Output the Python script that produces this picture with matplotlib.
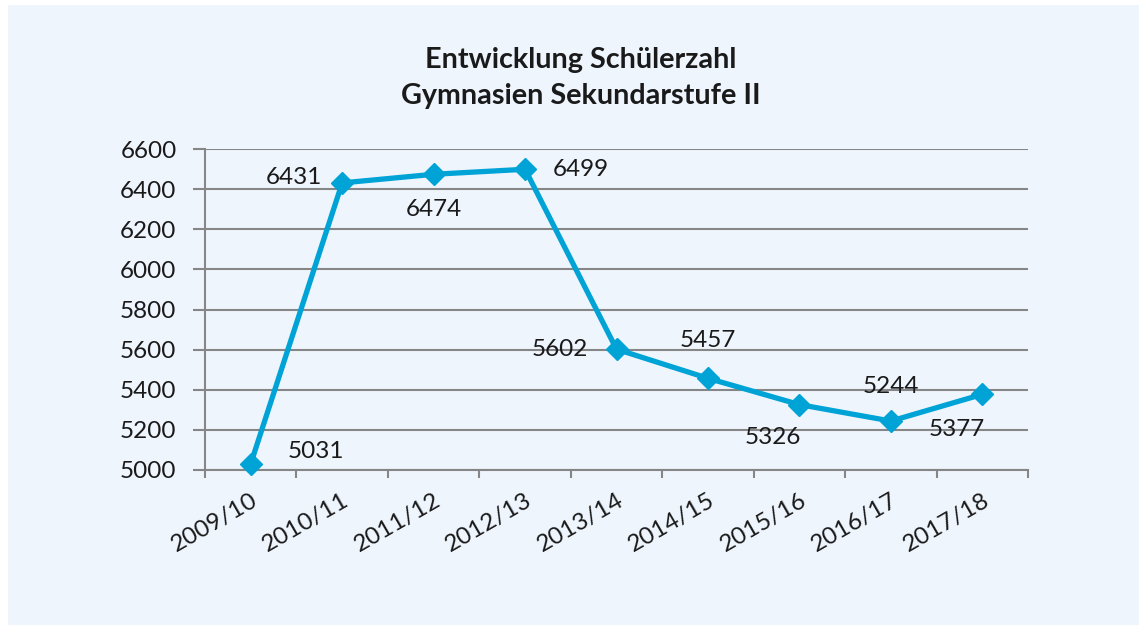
import matplotlib
matplotlib.use("Agg")
import matplotlib.pyplot as plt
from matplotlib.patches import Rectangle
from matplotlib.ticker import FixedLocator, NullFormatter

categories = ["2009/10", "2010/11", "2011/12", "2012/13", "2013/14",
              "2014/15", "2015/16", "2016/17", "2017/18"]
values = [5031, 6431, 6474, 6499, 5602, 5457, 5326, 5244, 5377]
y_ticks = [5000, 5200, 5400, 5600, 5800, 6000, 6200, 6400, 6600]
title = "Entwicklung Schülerzahl\nGymnasien Sekundarstufe II"

# label offsets in points (style, not data)
label_offsets = [(47, 9), (-35, 4), (0, -25), (40, 0), (-41, 0),
                 (0, 27), (-19, -24), (0, 25), (-18, -25)]

plt.rcParams['font.family'] = ['Lato', 'DejaVu Sans']

W, H = 1141, 625
fig = plt.figure(figsize=(W / 100, H / 100), dpi=100)
fig.patch.set_facecolor("white")
bg = "#EEF5FD"
fig.patches.append(Rectangle((8 / W, 0), (1139 - 8) / W, 1 - 5 / H,
                             transform=fig.transFigure, facecolor=bg,
                             edgecolor="none", zorder=-10))

ax = fig.add_axes([205 / W, 1 - 470 / H, (1028 - 205) / W, (470 - 149) / H])
ax.set_facecolor("none")
ax.set_zorder(1)

x = list(range(len(categories)))
line_color = "#00A3D6"
ax.plot(x, values, color=line_color, lw=3.8, marker="D", markersize=11,
        markeredgecolor=line_color, markerfacecolor=line_color, zorder=3,
        clip_on=False)

fs = 17.5
for xi, v, (dx, dy) in zip(x, values, label_offsets):
    ax.annotate(str(v), (xi, v), xytext=(dx, dy), textcoords="offset points",
                ha="center", va="center", fontsize=fs, color="#1a1a1a", zorder=4)

ax.set_xlim(-0.5, len(categories) - 0.5)
ax.set_ylim(y_ticks[0], y_ticks[-1])
ax.set_yticks(y_ticks)
ax.set_yticklabels([str(t) for t in y_ticks], fontsize=fs, color="#1a1a1a")

ax.set_xticks(x)
ax.set_xticklabels(categories, rotation=30, ha="right", rotation_mode="anchor",
                   fontsize=fs, color="#1a1a1a")
ax.tick_params(axis="x", which="major", length=0, pad=14)
ax.xaxis.set_minor_locator(FixedLocator([i - 0.5 for i in range(len(categories) + 1)]))
ax.xaxis.set_minor_formatter(NullFormatter())
ax.tick_params(axis="x", which="minor", length=6, width=1.5, color="#868686")
ax.tick_params(axis="y", length=8.5, width=1.5, color="#868686", pad=12)

ax.grid(axis="y", color="#868686", lw=1.5, zorder=1)
ax.set_axisbelow(True)
for s in ["top", "right"]:
    ax.spines[s].set_visible(False)
for s in ["left", "bottom"]:
    ax.spines[s].set_color("#868686")
    ax.spines[s].set_linewidth(1.5)

fig.text((418 + 743) / 2 / W, 1 - 78 / H, title, ha="center", va="center",
         fontsize=20.7, fontweight="bold", color="#1a1a1a", linespacing=1.5)

fig.savefig("out.png", dpi=100, facecolor=fig.get_facecolor())
